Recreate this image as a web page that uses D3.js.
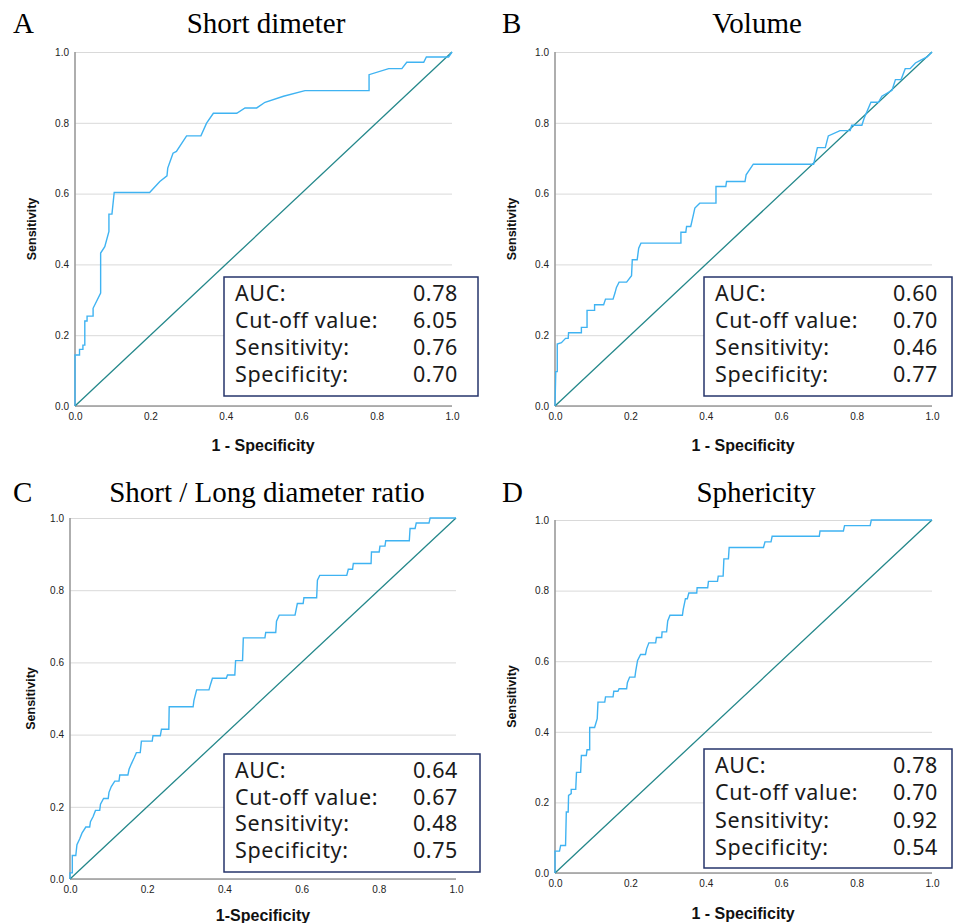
<!DOCTYPE html>
<html>
<head>
<meta charset="UTF-8">
<style>
  body { margin: 0; background: #fff; }
  .grid line { stroke: #d9d9d9; stroke-width: 1; }
  .grid .domain { display: none; }
  .tick text { font-family: "Liberation Sans", Arial, sans-serif; font-size: 10px; fill: #222; }
  .roc { fill: none; stroke: #3fb3f2; stroke-width: 1.4; }
  .ref { stroke: #23878a; stroke-width: 1.3; }
  .axisline { stroke: #9a9a9a; stroke-width: 1.6; }
  .letter, .title { font-family: "Liberation Serif", "Times New Roman", serif; font-size: 29px; fill: #000; }
  .ylab, .xlab { font-family: "Liberation Sans", Arial, sans-serif; font-weight: bold; fill: #111; }
  .ylab { font-size: 12.5px; }
  .xlab { font-size: 16px; }
  .statbox { fill: #fff; stroke: #26346b; stroke-width: 1.5; }
  .stat { font-family: "Noto Sans", sans-serif; font-size: 21.5px; letter-spacing: 0.6px; fill: #1a1a1a; }
</style>
<script src="https://cdn.jsdelivr.net/npm/d3@7"></script>
</head>
<body>
<div id="chart"></div>
<script>

// ROC curves, as [1 - specificity, sensitivity]
var rocShortDiam = [
  [0,0],[0,0.144],[0.012,0.144],[0.012,0.16],[0.021,0.16],[0.021,0.172],[0.026,0.172],[0.026,0.24],
  [0.032,0.24],[0.032,0.254],[0.048,0.254],[0.048,0.276],[0.068,0.319],[0.068,0.432],[0.079,0.45],
  [0.09,0.493],[0.09,0.542],[0.098,0.542],[0.104,0.603],[0.198,0.603],[0.225,0.634],[0.244,0.65],
  [0.246,0.672],[0.26,0.714],[0.269,0.719],[0.296,0.763],[0.334,0.763],[0.349,0.799],[0.367,0.827],
  [0.429,0.827],[0.451,0.842],[0.482,0.842],[0.504,0.858],[0.553,0.875],[0.61,0.891],[0.78,0.891],
  [0.78,0.936],[0.832,0.953],[0.867,0.953],[0.88,0.971],[0.925,0.971],[0.932,0.986],[0.991,0.986],[1,1]
];
var rocVolume = [
  [0,0],[0.002,0.097],[0.006,0.097],[0.006,0.175],[0.017,0.179],[0.028,0.191],[0.035,0.191],[0.036,0.207],
  [0.07,0.207],[0.07,0.222],[0.085,0.222],[0.085,0.27],[0.105,0.27],[0.105,0.286],[0.129,0.286],[0.134,0.302],
  [0.154,0.302],[0.159,0.319],[0.163,0.335],[0.17,0.35],[0.19,0.35],[0.203,0.368],[0.205,0.413],[0.218,0.413],
  [0.222,0.446],[0.228,0.46],[0.334,0.46],[0.334,0.491],[0.347,0.491],[0.349,0.507],[0.36,0.507],[0.367,0.54],
  [0.371,0.559],[0.384,0.573],[0.427,0.573],[0.427,0.62],[0.453,0.62],[0.455,0.634],[0.504,0.634],[0.507,0.653],
  [0.526,0.683],[0.686,0.683],[0.696,0.73],[0.717,0.73],[0.725,0.763],[0.756,0.778],[0.783,0.778],[0.787,0.793],
  [0.814,0.793],[0.82,0.813],[0.838,0.858],[0.858,0.858],[0.867,0.875],[0.894,0.892],[0.903,0.922],[0.918,0.922],
  [0.929,0.953],[0.942,0.953],[0.956,0.969],[0.969,0.976],[0.987,0.986],[1,1]
];
var rocRatio = [
  [0,0],[0,0.017],[0.006,0.017],[0.006,0.065],[0.015,0.065],[0.018,0.095],[0.025,0.111],[0.031,0.127],
  [0.041,0.144],[0.051,0.144],[0.053,0.159],[0.06,0.173],[0.066,0.19],[0.077,0.19],[0.079,0.207],[0.087,0.223],
  [0.099,0.223],[0.101,0.24],[0.107,0.256],[0.116,0.271],[0.127,0.271],[0.129,0.288],[0.15,0.288],[0.153,0.304],
  [0.159,0.319],[0.166,0.335],[0.172,0.35],[0.182,0.35],[0.185,0.382],[0.213,0.382],[0.215,0.397],[0.234,0.397],
  [0.237,0.415],[0.256,0.415],[0.257,0.477],[0.319,0.477],[0.321,0.494],[0.328,0.524],[0.36,0.524],[0.364,0.539],
  [0.369,0.556],[0.405,0.556],[0.408,0.565],[0.427,0.565],[0.429,0.605],[0.447,0.605],[0.449,0.668],[0.505,0.668],
  [0.507,0.683],[0.533,0.683],[0.535,0.714],[0.542,0.731],[0.583,0.731],[0.589,0.763],[0.604,0.763],[0.606,0.779],
  [0.639,0.779],[0.641,0.828],[0.647,0.841],[0.717,0.841],[0.721,0.858],[0.732,0.858],[0.734,0.874],[0.78,0.874],
  [0.781,0.906],[0.801,0.906],[0.803,0.922],[0.816,0.922],[0.818,0.937],[0.879,0.937],[0.881,0.971],[0.894,0.971],
  [0.897,0.986],[0.93,0.986],[0.933,1],[1,1]
];
var rocSphericity = [
  [0,0],[0,0.062],[0.012,0.062],[0.015,0.078],[0.028,0.078],[0.03,0.173],[0.035,0.173],[0.036,0.22],
  [0.043,0.225],[0.043,0.237],[0.055,0.237],[0.057,0.285],[0.068,0.285],[0.07,0.333],[0.083,0.333],[0.085,0.349],
  [0.092,0.349],[0.092,0.412],[0.105,0.412],[0.112,0.437],[0.114,0.484],[0.132,0.484],[0.134,0.499],[0.154,0.499],
  [0.156,0.515],[0.167,0.515],[0.17,0.522],[0.19,0.522],[0.192,0.539],[0.198,0.555],[0.212,0.555],[0.214,0.571],
  [0.219,0.602],[0.227,0.619],[0.24,0.619],[0.243,0.635],[0.249,0.652],[0.267,0.652],[0.269,0.667],[0.283,0.667],
  [0.284,0.683],[0.296,0.683],[0.299,0.714],[0.305,0.73],[0.338,0.73],[0.34,0.746],[0.346,0.777],[0.351,0.777],
  [0.355,0.793],[0.376,0.793],[0.377,0.808],[0.405,0.808],[0.407,0.826],[0.431,0.826],[0.433,0.841],[0.446,0.841],
  [0.448,0.89],[0.46,0.89],[0.462,0.922],[0.553,0.922],[0.557,0.938],[0.573,0.938],[0.576,0.954],[0.701,0.954],
  [0.703,0.969],[0.765,0.969],[0.768,0.984],[0.836,0.984],[0.839,1],[1,1]
];

var panelLetters = ["A", "B", "C", "D"];
var panelTitles = ["Short dimeter", "Volume", "Short / Long diameter ratio", "Sphericity"];
var xAxisLabels = ["1 - Specificity", "1 - Specificity", "1-Specificity", "1 - Specificity"];
var yAxisLabel = "Sensitivity";
var statNames = ["AUC:", "Cut-off value:", "Sensitivity:", "Specificity:"];
var statsShortDiam = ["0.78", "6.05", "0.76", "0.70"];
var statsVolume = ["0.60", "0.70", "0.46", "0.77"];
var statsRatio = ["0.64", "0.67", "0.48", "0.75"];
var statsSphericity = ["0.78", "0.70", "0.92", "0.54"];
var tickValues = [0, 0.2, 0.4, 0.6, 0.8, 1.0];

var curves = [rocShortDiam, rocVolume, rocRatio, rocSphericity];
var stats = [statsShortDiam, statsVolume, statsRatio, statsSphericity];

// where each panel sits on the page (pixels)
var layout = [
  {l: 75,  r: 452, t: 52,  b: 406, ox: 13,  tx: 266, ty: 33,  yl: 32,  xl: 263, xy: 445, box: [224, 277, 478, 396], lh: 27},
  {l: 555, r: 932, t: 52,  b: 406, ox: 502, tx: 757, ty: 33,  yl: 512, xl: 743, xy: 445, box: [704, 277, 952, 396], lh: 27},
  {l: 70,  r: 456, t: 518, b: 879, ox: 13,  tx: 267, ty: 502, yl: 31,  xl: 263, xy: 915, box: [224, 754, 480, 872], lh: 26.7},
  {l: 555, r: 932, t: 520, b: 873, ox: 502, tx: 756, ty: 502, yl: 512, xl: 743, xy: 913, box: [704, 749, 952, 868], lh: 27.3}
];

var svg = d3.select("#chart").append("svg")
  .attr("width", 955)
  .attr("height", 923);

svg.append("rect").attr("width", 955).attr("height", 923).attr("fill", "#fff");

layout.forEach(function(p, i) {
  var x = d3.scaleLinear().domain([0, 1]).range([p.l, p.r]);
  var y = d3.scaleLinear().domain([0, 1]).range([p.b, p.t]);
  var g = svg.append("g");

  // panel letter + title
  g.append("text").attr("class", "letter").attr("x", p.ox).attr("y", p.ty).text(panelLetters[i]);
  g.append("text").attr("class", "title").attr("x", p.tx).attr("y", p.ty)
    .attr("text-anchor", "middle").text(panelTitles[i]);

  // gridlines + y tick labels
  g.append("g").attr("class", "grid")
    .attr("transform", "translate(" + p.l + ",0)")
    .call(d3.axisLeft(y).tickValues(tickValues).tickSize(-(p.r - p.l)).tickPadding(6).tickFormat(d3.format(".1f")));

  // x tick labels
  var xa = g.append("g").attr("class", "grid")
    .attr("transform", "translate(0," + p.b + ")")
    .call(d3.axisBottom(x).tickValues(tickValues).tickSize(0).tickPadding(7).tickFormat(d3.format(".1f")));
  xa.selectAll("line").remove();

  // axis lines
  g.append("line").attr("class", "axisline").attr("x1", p.l).attr("x2", p.l).attr("y1", y(1)).attr("y2", p.b);
  g.append("line").attr("class", "axisline").attr("x1", p.l).attr("x2", p.r).attr("y1", p.b).attr("y2", p.b);

  // reference diagonal
  g.append("line").attr("class", "ref").attr("x1", x(0)).attr("y1", y(0)).attr("x2", x(1)).attr("y2", y(1));

  // roc curve
  var line = d3.line().x(function(d) { return x(d[0]); }).y(function(d) { return y(d[1]); });
  g.append("path").attr("class", "roc").attr("d", line(curves[i]));

  // axis titles
  g.append("text").attr("class", "ylab")
    .attr("transform", "translate(" + p.yl + "," + ((p.t + p.b) / 2) + ") rotate(-90)")
    .attr("text-anchor", "middle").attr("dominant-baseline", "central").text(yAxisLabel);
  g.append("text").attr("class", "xlab").attr("x", p.xl).attr("y", p.xy)
    .attr("text-anchor", "middle").attr("dominant-baseline", "central").text(xAxisLabels[i]);

  // stats box
  var bx = p.box;
  g.append("rect").attr("class", "statbox")
    .attr("x", bx[0]).attr("y", bx[1]).attr("width", bx[2] - bx[0]).attr("height", bx[3] - bx[1]);
  statNames.forEach(function(name, k) {
    var ty = bx[1] + 24 + k * p.lh;
    g.append("text").attr("class", "stat").attr("x", bx[0] + 11).attr("y", ty).text(name);
    g.append("text").attr("class", "stat").attr("x", bx[0] + 234).attr("y", ty)
      .attr("text-anchor", "end").text(stats[i][k]);
  });
});

</script>
</body>
</html>
